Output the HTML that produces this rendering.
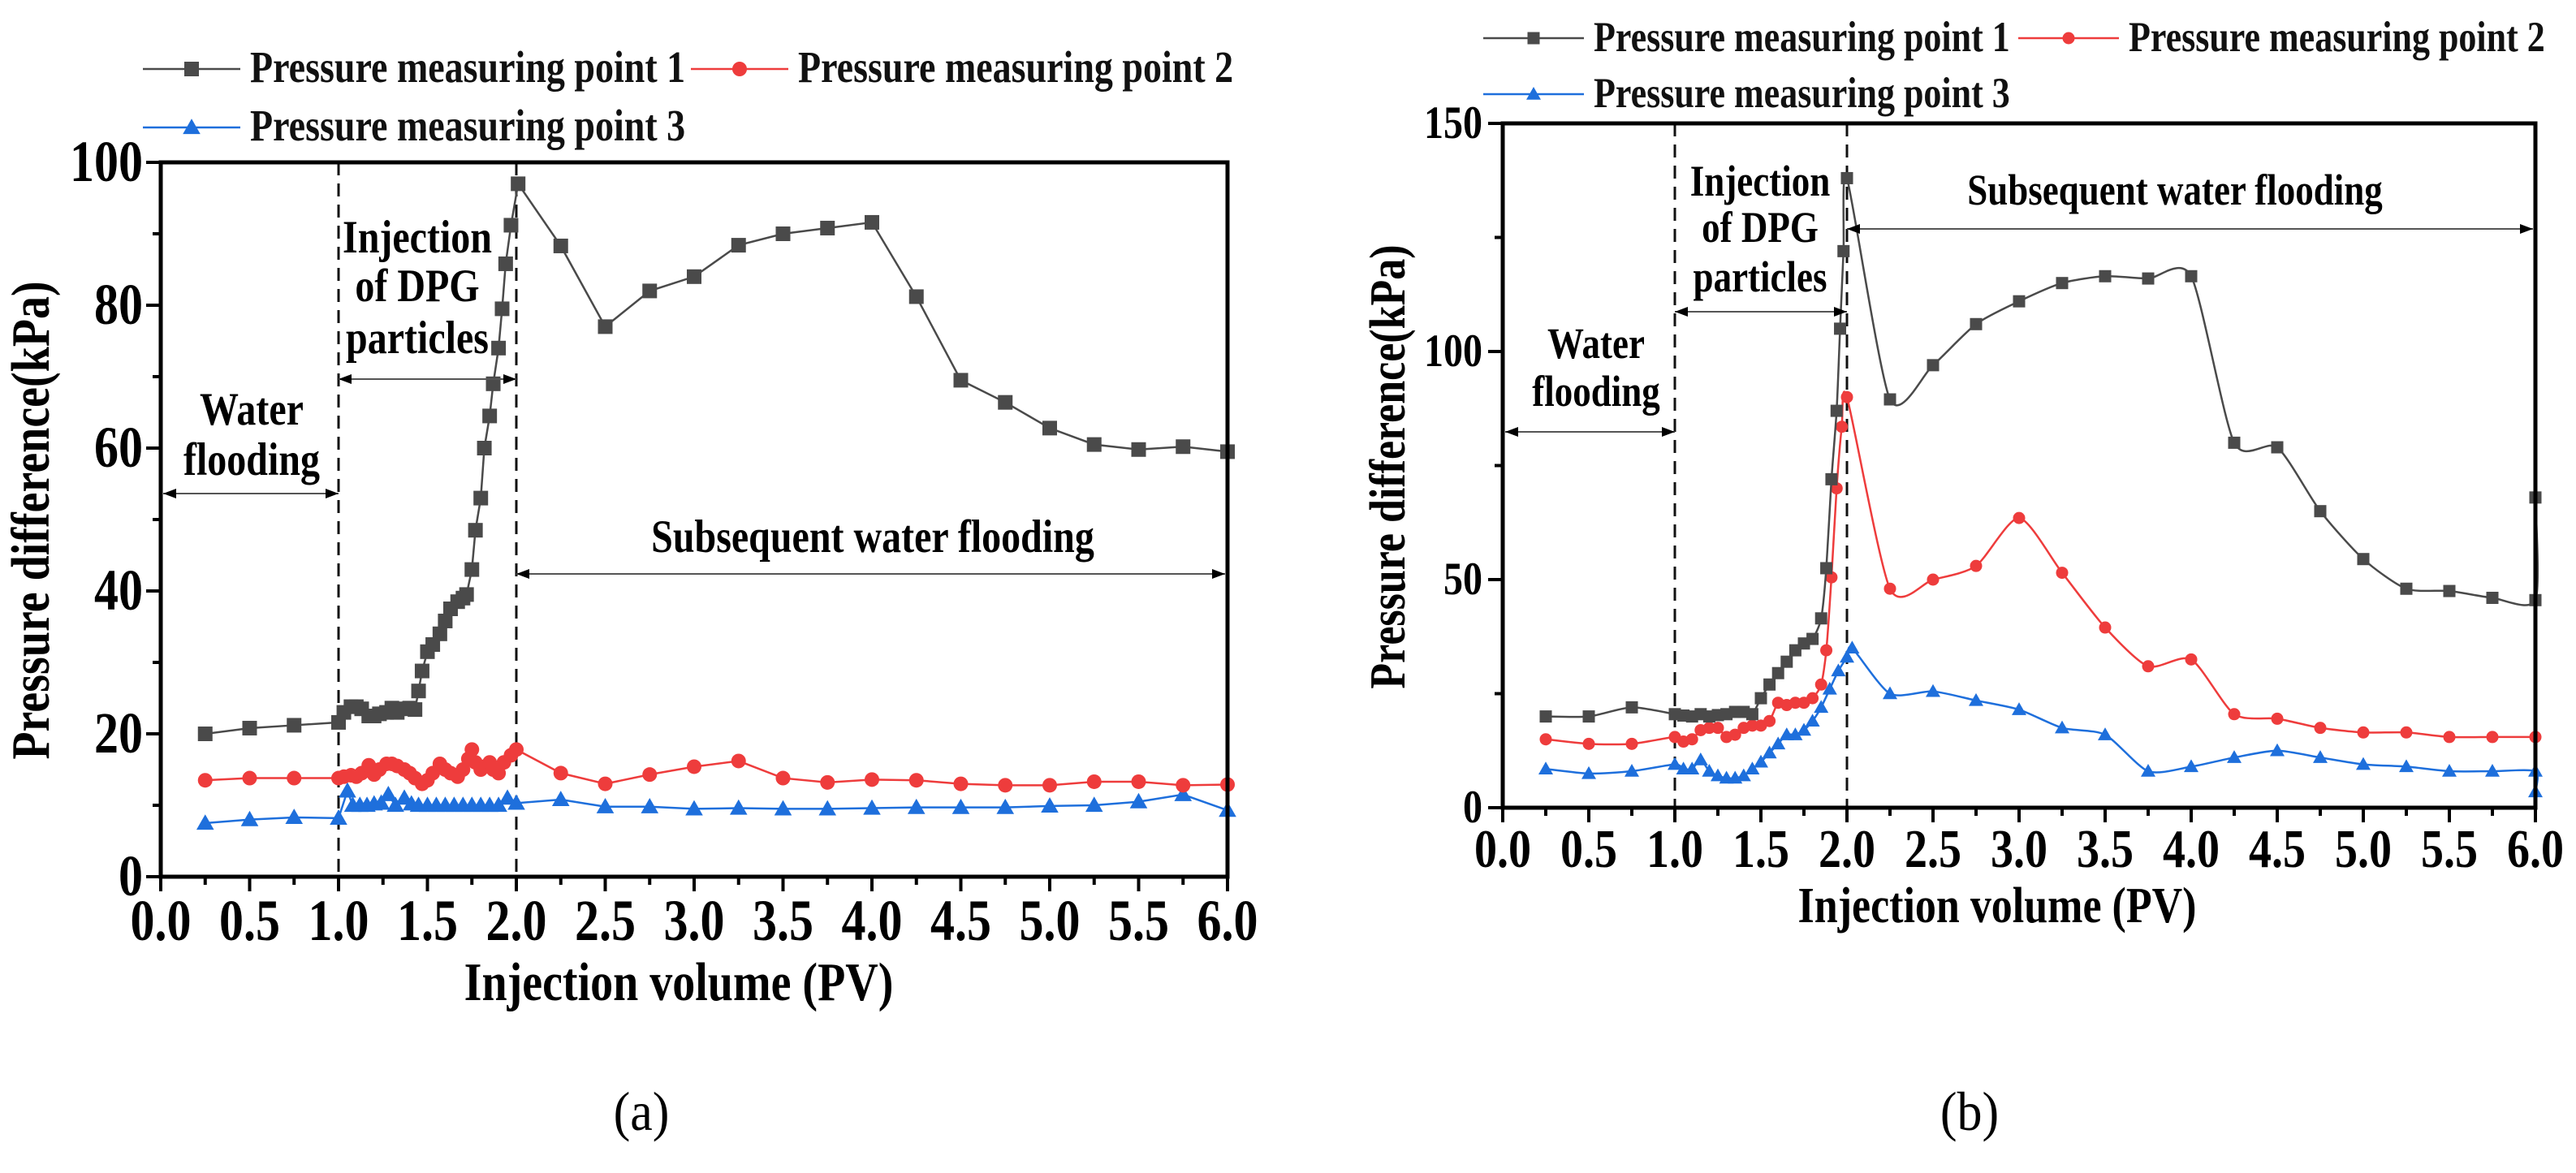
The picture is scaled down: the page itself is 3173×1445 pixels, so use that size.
<!DOCTYPE html>
<html><head><meta charset="utf-8">
<style>
html,body{margin:0;padding:0;background:#fff;}
svg{display:block;font-family:"Liberation Serif","Times New Roman",Times,"DejaVu Serif",serif;font-weight:bold;}
</style></head>
<body>
<svg id="fig" width="3173" height="1445" viewBox="0 0 3173 1445" xmlns="http://www.w3.org/2000/svg"></svg>
<script>
// ---- Chart (a) data ----
const aP1x=[0.25,0.5,0.75,1.0,1.03,1.07,1.1,1.13,1.17,1.2,1.23,1.27,1.3,1.33,1.37,1.4,1.43,1.45,1.47,1.5,1.53,1.57,1.6,1.63,1.67,1.7,1.72,1.75,1.77,1.8,1.82,1.85,1.87,1.9,1.92,1.94,1.97,2.01,2.25,2.5,2.75,3.0,3.25,3.5,3.75,4.0,4.25,4.5,4.75,5.0,5.25,5.5,5.75,6.0];
const aP1y=[20,20.8,21.2,21.6,23,23.8,23.8,23.5,22.5,22.5,22.8,23,23.6,23,23.5,23.6,23.4,26,28.8,31.5,32.5,34,35.8,37.5,38.5,39,39.5,43,48.5,53,60,64.5,69,74,79.5,85.8,91.2,97,88.3,77,82,84,88.4,90,90.8,91.6,81.2,69.5,66.4,62.8,60.5,59.8,60.2,59.5];
const aP2x=[0.25,0.5,0.75,1.0,1.03,1.07,1.1,1.13,1.17,1.2,1.23,1.27,1.3,1.33,1.37,1.4,1.43,1.47,1.5,1.53,1.57,1.6,1.63,1.67,1.7,1.73,1.75,1.77,1.8,1.83,1.85,1.87,1.9,1.93,1.97,2.0,2.25,2.5,2.75,3.0,3.25,3.5,3.75,4.0,4.25,4.5,4.75,5.0,5.25,5.5,5.75,6.0];
const aP2y=[13.5,13.8,13.8,13.8,14,14.2,14,14.5,15.6,14.3,15,15.8,15.8,15.5,15,14.5,13.8,13,13.5,14.5,15.8,15,14.5,14,15,16.5,17.8,16,15,15.5,16,15,14.5,16,17,17.8,14.5,13,14.3,15.4,16.2,13.8,13.2,13.6,13.5,13,12.8,12.8,13.3,13.3,12.8,12.9];
const aP3x=[0.25,0.5,0.75,1.0,1.05,1.08,1.12,1.16,1.2,1.24,1.28,1.32,1.37,1.41,1.45,1.5,1.55,1.6,1.65,1.7,1.75,1.8,1.85,1.9,1.95,2.0,2.25,2.5,2.75,3.0,3.25,3.5,3.75,4.0,4.25,4.5,4.75,5.0,5.25,5.5,5.75,6.0];
const aP3y=[7.5,8,8.3,8.2,12,10,10,10,10.2,10.3,11.5,10,11,10.2,10,10,10,10,10,10,10,10,10,10,11,10.3,10.8,9.8,9.8,9.5,9.6,9.5,9.5,9.6,9.7,9.7,9.7,9.9,10,10.5,11.5,9.3];
const aYTicks=[0,20,40,60,80,100];
const xTickLabels=["0.0","0.5","1.0","1.5","2.0","2.5","3.0","3.5","4.0","4.5","5.0","5.5","6.0"];

// ---- Chart (b) data ----
const bP1x=[0.25,0.5,0.75,1.0,1.05,1.1,1.15,1.2,1.25,1.3,1.35,1.4,1.45,1.5,1.55,1.6,1.65,1.7,1.75,1.8,1.85,1.88,1.91,1.94,1.96,1.98,2.0,2.25,2.5,2.75,3.0,3.25,3.5,3.75,4.0,4.25,4.5,4.75,5.0,5.25,5.5,5.75,6.0,6.0];
const bP1y=[20,20,22,20.5,20.2,20,20.5,20,20.3,20.5,21,21,20.5,24,27,29.5,32,34.5,36,37,41.5,52.5,72,87,105,122,138,89.5,97,106,111,115,116.5,116,116.5,80,79,65,54.5,48,47.5,46,45.5,68];
const bP2x=[0.25,0.5,0.75,1.0,1.05,1.1,1.15,1.2,1.25,1.3,1.35,1.4,1.45,1.5,1.55,1.6,1.65,1.7,1.75,1.8,1.85,1.88,1.91,1.94,1.97,2.0,2.25,2.5,2.75,3.0,3.25,3.5,3.75,4.0,4.25,4.5,4.75,5.0,5.25,5.5,5.75,6.0];
const bP2y=[15,14,14,15.5,14.5,15,17,17.5,17.5,15.5,16,17.5,18,18,19,23,22.5,23,23,24,27,34.5,50.5,70,83.5,90,48,50,53,63.5,51.5,39.5,31,32.5,20.5,19.5,17.5,16.5,16.5,15.5,15.5,15.5];
const bP3x=[0.25,0.5,0.75,1.0,1.05,1.1,1.15,1.2,1.25,1.3,1.35,1.4,1.45,1.5,1.55,1.6,1.65,1.7,1.75,1.8,1.85,1.9,1.95,2.0,2.03,2.25,2.5,2.75,3.0,3.25,3.5,3.75,4.0,4.25,4.5,4.75,5.0,5.25,5.5,5.75,6.0,6.0];
const bP3y=[8.5,7.5,8,9.5,8.5,8.5,10.5,8,7,6.5,6.5,7,8.5,10,12,14,16,16,17,19,22,26,30,33,35,25,25.5,23.5,21.5,17.5,16,8,9,11,12.5,11,9.5,9,8,8,8,3.5];
const bYTicks=[0,50,100,150];

const NS="http://www.w3.org/2000/svg";
const svg=document.getElementById('fig');
const FONT="'Liberation Serif', 'Times New Roman', Times, 'DejaVu Serif', serif";
function el(tag,attrs,parent){const e=document.createElementNS(NS,tag);for(const k in attrs)e.setAttribute(k,attrs[k]);(parent||svg).appendChild(e);return e;}
function txt(s,attrs,parent,sy){
  sy=sy||1.2;
  const a=Object.assign({},attrs);
  if(!a.transform){a.transform=`translate(${a.x},${a.y}) scale(1,${sy})`;a.x=0;a.y=0;}
  else {a.transform+=` scale(1,${sy})`;}
  a['font-family']=FONT;
  const e=el('text',a,parent);e.textContent=s;return e;}

const C1="#4a4a4a",C2="#ee3c3c",C3="#1e6fdc";

function marker(g,type,x,y,col,s){
  let m;
  if(type==='sq'){m=el('rect',{x:x-s/2,y:y-s/2,width:s,height:s,fill:col},g);}
  else if(type==='ci'){m=el('circle',{cx:x,cy:y,r:s/2,fill:col},g);}
  else {m=el('polygon',{points:`${x},${y-s*0.6} ${x-s*0.6},${y+s*0.45} ${x+s*0.6},${y+s*0.45}`,fill:col},g);}
  
  
}

function smoothPath(pts){
  let d=`M${pts[0][0]},${pts[0][1]}`;
  for(let i=0;i<pts.length-1;i++){
    const p0=pts[i-1]||pts[i],p1=pts[i],p2=pts[i+1],p3=pts[i+2]||p2;
    const t=0.12;
    d+=` C${p1[0]+(p2[0]-p0[0])*t},${p1[1]+(p2[1]-p0[1])*t} ${p2[0]-(p3[0]-p1[0])*t},${p2[1]-(p3[1]-p1[1])*t} ${p2[0]},${p2[1]}`;
  }
  return d;
}

function arrowLine(g,x1,x2,y,name){
  const a=el('g',{},g);
  
  
  el('line',{x1:x1,y1:y,x2:x2,y2:y,stroke:'#555','stroke-width':2},a);
  el('polygon',{points:`${x1},${y} ${x1+16},${y-6} ${x1+16},${y+6}`,fill:'#000'},a);
  el('polygon',{points:`${x2},${y} ${x2-16},${y-6} ${x2-16},${y+6}`,fill:'#000'},a);
}

function chart(cfg){
  const g=el('g',{});
  
  
  const X=v=>cfg.x0+(cfg.x1-cfg.x0)*v/6;
  const Y=v=>cfg.y0-(cfg.y0-cfg.y1)*v/cfg.ymax;
  const leg=el('g',{},g);
  
  
  const L=cfg.leg;
  [[L.a,L.r1,C1,'sq','Pressure measuring point 1'],[L.b,L.r1,C2,'ci','Pressure measuring point 2'],[L.a,L.r2,C3,'tr','Pressure measuring point 3']].forEach((e,i)=>{
    const le=el('g',{},leg);
    
    
    el('line',{x1:e[0],y1:e[1],x2:e[0]+L.w,y2:e[1],stroke:e[2],'stroke-width':2.5},le);
    marker(le,e[3],e[0]+L.w/2,e[1],e[2],cfg.ms);
    txt(e[4],{x:e[0]+L.w+12,y:e[1]+16,'font-size':L.fs,fill:'#111'},le);
  });
  [1,2].forEach(v=>{
    const d=el('line',{x1:X(v),y1:cfg.y1,x2:X(v),y2:cfg.y0,stroke:'#111','stroke-width':3,'stroke-dasharray':'16,10'},g);
    
    
  });
  const series=[[cfg.p1x,cfg.p1y,C1,'sq','series-point-1'],[cfg.p2x,cfg.p2y,C2,'ci','series-point-2'],[cfg.p3x,cfg.p3y,C3,'tr','series-point-3']];
  series.reverse().forEach(s=>{
    const sg=el('g',{},g);
    
    
    const pts=s[0].map((v,i)=>[X(v),Y(s[1][i])]);
    const d=cfg.smooth?smoothPath(pts):'M'+pts.map(p=>p.join(',')).join(' L');
    el('path',{d:d,fill:'none',stroke:s[2],'stroke-width':2.5},sg);
    pts.forEach(p=>marker(sg,s[3],p[0],p[1],s[2],cfg.ms));
  });
  const ax=el('g',{},g);
  
  
  el('rect',{x:cfg.x0,y:cfg.y1,width:cfg.x1-cfg.x0,height:cfg.y0-cfg.y1,fill:'none',stroke:'#000','stroke-width':5},ax);
  for(let i=0;i<=12;i++){
    const x=X(i*0.5);
    el('line',{x1:x,y1:cfg.y0,x2:x,y2:cfg.y0+18,stroke:'#000','stroke-width':4},ax);
    if(i<12) el('line',{x1:X(i*0.5+0.25),y1:cfg.y0,x2:X(i*0.5+0.25),y2:cfg.y0+10,stroke:'#000','stroke-width':4},ax);
    const t=txt(xTickLabels[i],{x:x,y:cfg.xly,'text-anchor':'middle','font-size':cfg.xfs,fill:'#000'},ax);
    
    
  }
  cfg.yt.forEach((v,i)=>{
    const y=Y(v);
    el('line',{x1:cfg.x0-18,y1:y,x2:cfg.x0,y2:y,stroke:'#000','stroke-width':4},ax);
    if(i<cfg.yt.length-1){const ym=Y((v+cfg.yt[i+1])/2);el('line',{x1:cfg.x0-10,y1:ym,x2:cfg.x0,y2:ym,stroke:'#000','stroke-width':4},ax);}
    const t=txt(String(v),{x:cfg.ylx,y:y+cfg.yfs*0.38,'text-anchor':'end','font-size':cfg.yfs,fill:'#000'},ax);
    
    
  });
  const xt=txt('Injection volume (PV)',{x:cfg.xtx,y:cfg.xty,'text-anchor':'middle','font-size':cfg.tfs,fill:'#000'},g);
  
  
  const yt=txt('Pressure difference(kPa)',{x:0,y:0,'text-anchor':'middle','font-size':cfg.tfs,fill:'#000',transform:`translate(${cfg.ytx},${cfg.yty}) rotate(-90)`},g);
  
  
  const A=cfg.ann;
  const an=el('g',{'font-size':A.fs,'text-anchor':'middle',fill:'#000'},g);
  
  
  txt('Water',{x:A.wx,y:A.w1},an); txt('flooding',{x:A.wx,y:A.w2},an);
  arrowLine(an,X(0)+3,X(1),A.wa,'water-flooding-arrow');
  txt('Injection',{x:A.ix,y:A.i1},an); txt('of DPG',{x:A.ix,y:A.i2},an); txt('particles',{x:A.ix,y:A.i3},an);
  arrowLine(an,X(1),X(2),A.ia,'injection-arrow');
  txt('Subsequent water flooding',{x:A.sx,y:A.s1},an);
  arrowLine(an,X(2),X(6)-3,A.sa,'subsequent-arrow');
  const cap=txt(cfg.cap,{x:cfg.capx,y:1392,'text-anchor':'middle','font-size':62,'font-weight':'normal',fill:'#000'},g,1.1);
  
  
}

chart({name:'chart-a',x0:198,x1:1512,y0:1080,y1:200,ymax:100,yt:aYTicks,
  p1x:aP1x,p1y:aP1y,p2x:aP2x,p2y:aP2y,p3x:aP3x,p3y:aP3y,smooth:false,ms:18,
  leg:{a:176,b:851,r1:85,r2:157,w:120,fs:46},
  xly:1158,xfs:60,ylx:176,yfs:60,xtx:836,xty:1232,ytx:60,yty:641,tfs:56,
  ann:{fs:48,wx:310,w1:523,w2:585,wa:608,ix:514,i1:311,i2:371,i3:435,ia:467,sx:1075,s1:680,sa:707},
  cap:'(a)',capx:790});
chart({name:'chart-b',x0:1851,x1:3123,y0:995,y1:152,ymax:150,yt:bYTicks,
  p1x:bP1x,p1y:bP1y,p2x:bP2x,p2y:bP2y,p3x:bP3x,p3y:bP3y,smooth:true,ms:15,
  leg:{a:1827,b:2486,r1:47,r2:116,w:124,fs:44},
  xly:1068,xfs:56,ylx:1826,yfs:48,xtx:2460,xty:1136,ytx:1730,yty:575,tfs:52,
  ann:{fs:45,wx:1966,w1:441,w2:500,wa:532,ix:2168,i1:241,i2:298,i3:359,ia:384,sx:2679,s1:252,sa:282},
  cap:'(b)',capx:2426});
</script>
</body></html>
